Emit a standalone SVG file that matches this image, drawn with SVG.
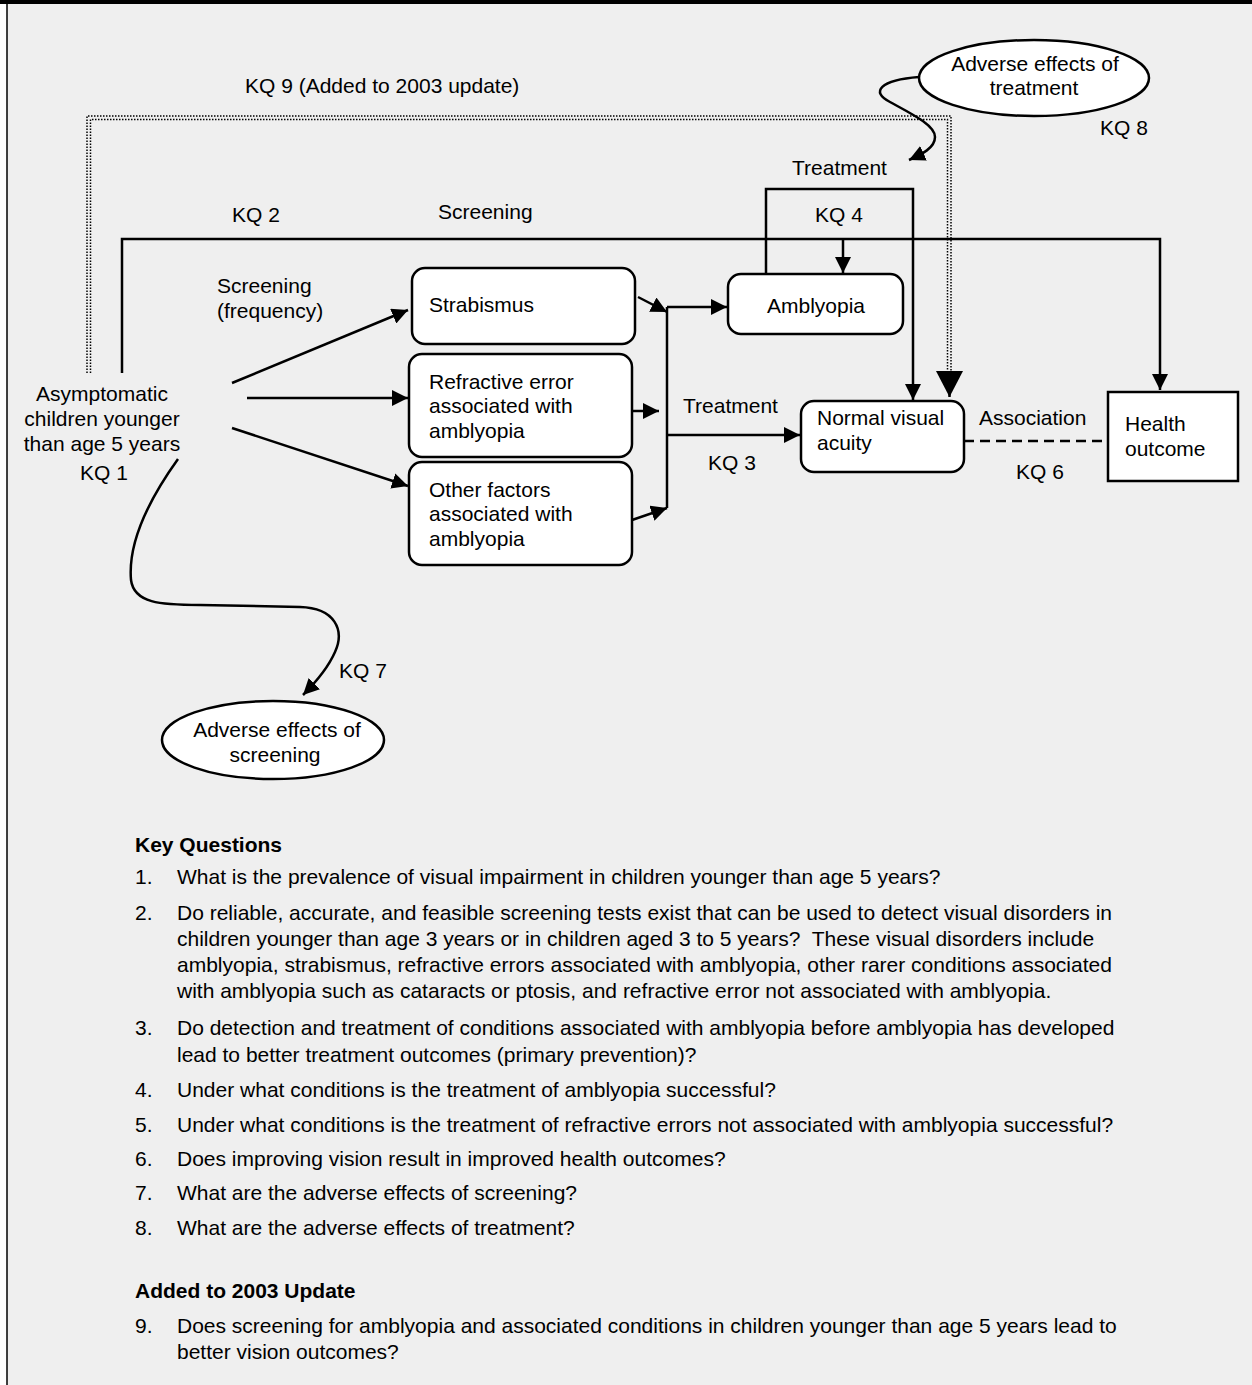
<svg xmlns="http://www.w3.org/2000/svg" width="1252" height="1385" viewBox="0 0 1252 1385">
<style>
text{font-family:"Liberation Sans",Arial,Helvetica,sans-serif;font-size:21px;fill:#000}
.b{font-weight:bold}
.m{text-anchor:middle}
.box{fill:#fff;stroke:#000;stroke-width:2.5}
.ln{fill:none;stroke:#000;stroke-width:2.5}
.dot{fill:none;stroke:#000;stroke-width:1.5;stroke-dasharray:1.5 1.5}
.dash{fill:none;stroke:#000;stroke-width:2.5;stroke-dasharray:10 6}
.pre{white-space:pre}
</style>
<defs>
<marker id="arr" viewBox="0 0 16 16" markerWidth="16" markerHeight="16" refX="16" refY="8" orient="auto" markerUnits="userSpaceOnUse">
<path d="M0,0 L16,8 L0,16 Z" fill="#000"/>
</marker>
<marker id="big" viewBox="0 0 26 27" markerWidth="26" markerHeight="27" refX="26" refY="13.5" orient="auto" markerUnits="userSpaceOnUse">
<path d="M0,0 L26,13.5 L0,27 Z" fill="#000"/>
</marker>
</defs>
<rect x="0" y="0" width="1252" height="1385" fill="#fff"/>
<rect x="7" y="0" width="1245" height="1385" fill="#efefef"/>
<line x1="7" y1="0" x2="7" y2="1385" stroke="#000" stroke-width="1.5"/>
<rect x="0" y="0" width="1252" height="4" fill="#000"/>

<g id="connectors">
<path class="dot" d="M87,373 V116 H951 V372"/>
<path class="dot" d="M90.5,373 V119.5 H947.5 V372"/>
<path class="ln" d="M949.5,371 V397" stroke-width="0.1" marker-end="url(#big)"/>
<path class="ln" d="M122,373 V239 H1160 V390" marker-end="url(#arr)"/>
<path class="ln" d="M843,239 V273" marker-end="url(#arr)"/>
<path class="ln" d="M766,274 V189 H913 V400" marker-end="url(#arr)"/>
<path class="ln" d="M232,383 L408,310" marker-end="url(#arr)"/>
<path class="ln" d="M247,398 L408,398" marker-end="url(#arr)"/>
<path class="ln" d="M232,428 L408,486" marker-end="url(#arr)"/>
<path class="ln" d="M638,297 L667,312" marker-end="url(#arr)"/>
<path class="ln" d="M632,411 L659,411" marker-end="url(#arr)"/>
<path class="ln" d="M632,520 L667,508" marker-end="url(#arr)"/>
<path class="ln" d="M667,307 V508"/>
<path class="ln" d="M667,307 H727" marker-end="url(#arr)"/>
<path class="ln" d="M667,435 H800" marker-end="url(#arr)"/>
<path class="dash" d="M964,441 H1108"/>
<path class="ln" d="M178,459 C145,505 128,545 131,580 C134,603 160,605 200,605 L300,607 C335,608 345,630 335,652 C328,668 318,680 303,695" marker-end="url(#arr)"/>
<path class="ln" d="M919,77 C880,80 870,92 890,102 C910,113 935,125 935,137 C935,148 922,154 909,160" marker-end="url(#arr)"/>
</g>

<g id="labels">
<text x="245" y="93">KQ 9 (Added to 2003 update)</text>
<text x="792" y="175">Treatment</text>
<text x="1100" y="135">KQ 8</text>
<text x="815" y="222">KQ 4</text>
<text x="232" y="222">KQ 2</text>
<text x="438" y="219">Screening</text>
<text x="217" y="293">Screening</text>
<text x="217" y="318">(frequency)</text>
<text x="683" y="413">Treatment</text>
<text x="708" y="470">KQ 3</text>
<text x="979" y="425">Association</text>
<text x="1016" y="479">KQ 6</text>
<text x="339" y="678">KQ 7</text>
</g>

<g id="node-children">
<text class="m" x="102" y="401">Asymptomatic</text>
<text class="m" x="102" y="426">children younger</text>
<text class="m" x="102" y="451">than age 5 years</text>
<text class="m" x="104" y="480">KQ 1</text>
</g>

<g id="node-strabismus">
<rect class="box" x="412" y="268" width="223" height="76" rx="13"/>
<text x="429" y="312">Strabismus</text>
</g>
<g id="node-refractive">
<rect class="box" x="409" y="354" width="223" height="103" rx="13"/>
<text x="429" y="389">Refractive error</text>
<text x="429" y="413">associated with</text>
<text x="429" y="438">amblyopia</text>
</g>
<g id="node-other">
<rect class="box" x="409" y="462" width="223" height="103" rx="13"/>
<text x="429" y="497">Other factors</text>
<text x="429" y="521">associated with</text>
<text x="429" y="546">amblyopia</text>
</g>
<g id="node-amblyopia">
<rect class="box" x="728" y="274" width="175" height="60" rx="13"/>
<text x="767" y="313">Amblyopia</text>
</g>
<g id="node-normal">
<rect class="box" x="801" y="401" width="163" height="71" rx="13"/>
<text x="817" y="425">Normal visual</text>
<text x="817" y="450">acuity</text>
</g>
<g id="node-health">
<rect class="box" x="1108" y="392" width="130" height="89"/>
<text x="1125" y="431">Health</text>
<text x="1125" y="456">outcome</text>
</g>
<g id="node-adverse-treatment">
<ellipse class="box" cx="1034" cy="78" rx="115" ry="38"/>
<text class="m" x="1035" y="71">Adverse effects of</text>
<text class="m" x="1034" y="95">treatment</text>
</g>
<g id="node-adverse-screening">
<ellipse class="box" cx="273" cy="740" rx="111" ry="39"/>
<text class="m" x="277" y="737">Adverse effects of</text>
<text class="m" x="275" y="762">screening</text>
</g>

<g id="key-questions">
<text class="b" x="135" y="852">Key Questions</text>
<text x="135" y="884">1.</text>
<text x="177" y="884">What is the prevalence of visual impairment in children younger than age 5 years?</text>
<text x="135" y="920">2.</text>
<text x="177" y="920">Do reliable, accurate, and feasible screening tests exist that can be used to detect visual disorders in</text>
<text x="177" y="946" class="pre">children younger than age 3 years or in children aged 3 to 5 years?  These visual disorders include</text>
<text x="177" y="972">amblyopia, strabismus, refractive errors associated with amblyopia, other rarer conditions associated</text>
<text x="177" y="998">with amblyopia such as cataracts or ptosis, and refractive error not associated with amblyopia.</text>
<text x="135" y="1035">3.</text>
<text x="177" y="1035">Do detection and treatment of conditions associated with amblyopia before amblyopia has developed</text>
<text x="177" y="1062">lead to better treatment outcomes (primary prevention)?</text>
<text x="135" y="1097">4.</text>
<text x="177" y="1097">Under what conditions is the treatment of amblyopia successful?</text>
<text x="135" y="1132">5.</text>
<text x="177" y="1132">Under what conditions is the treatment of refractive errors not associated with amblyopia successful?</text>
<text x="135" y="1166">6.</text>
<text x="177" y="1166">Does improving vision result in improved health outcomes?</text>
<text x="135" y="1200">7.</text>
<text x="177" y="1200">What are the adverse effects of screening?</text>
<text x="135" y="1235">8.</text>
<text x="177" y="1235">What are the adverse effects of treatment?</text>
<text class="b" x="135" y="1298">Added to 2003 Update</text>
<text x="135" y="1333">9.</text>
<text x="177" y="1333">Does screening for amblyopia and associated conditions in children younger than age 5 years lead to</text>
<text x="177" y="1359">better vision outcomes?</text>
</g>
</svg>
